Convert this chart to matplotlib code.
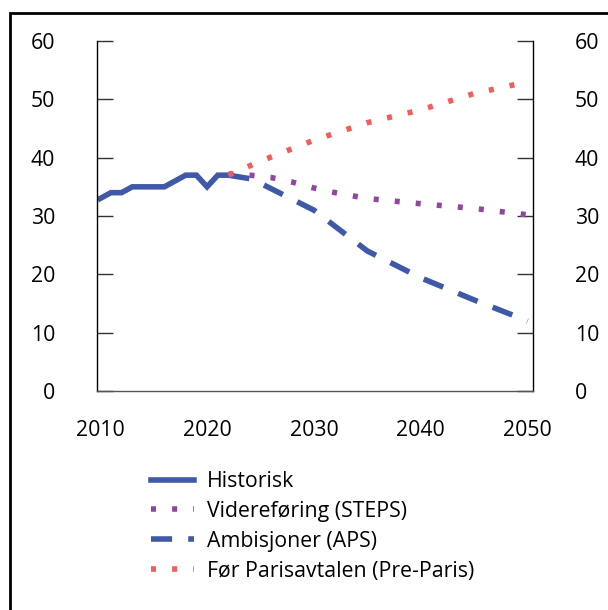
import matplotlib
matplotlib.use("Agg")
import matplotlib.pyplot as plt
from matplotlib.patches import Rectangle

plt.rcParams["font.family"] = ["Open Sans", "DejaVu Sans"]

# values (index units)
hist_years = [2010, 2011, 2012, 2013, 2014, 2015, 2016, 2017, 2018, 2019, 2020, 2021, 2022]
hist_vals = [33, 34, 34, 35, 35, 35, 35, 36, 37, 37, 35, 37, 37]

steps_years = [2022, 2024, 2026, 2028, 2030, 2032, 2035, 2040, 2045, 2050]
steps_vals = [37.2, 37.0, 36.6, 35.8, 34.8, 34.0, 33.0, 32.1, 31.3, 30.2]

aps_years = [2022, 2024, 2025, 2030, 2035, 2040, 2045, 2050]
aps_vals = [37.0, 36.4, 35.6, 31.0, 24.0, 19.4, 15.6, 12.0]

pre_years = [2022, 2025, 2030, 2035, 2040, 2045, 2050]
pre_vals = [37.0, 39.4, 43.0, 46.0, 48.2, 51.0, 53.0]

labels = ["Historisk", "Videreføring (STEPS)", "Ambisjoner (APS)",
          "Før Parisavtalen (Pre-Paris)"]
yticks = [0, 10, 20, 30, 40, 50, 60]
xticks = [2010, 2020, 2030, 2040, 2050]

BLUE = "#4058A8"
PURPLE = "#9146A0"
RED = "#F25C5C"
FS = 15.3
LW = 4.0

W, H = 608, 610
fig = plt.figure(figsize=(W / 100, H / 100), dpi=100)
ax = fig.add_axes([97 / W, 1 - 391 / H, (533 - 97) / W, (391 - 41) / H])

ax.plot(hist_years, hist_vals, color=BLUE, lw=LW, solid_joinstyle="miter",
        label=labels[0])
ax.plot(steps_years, steps_vals, color=PURPLE, lw=LW, dashes=(0.9, 2.9),
        dash_capstyle="butt", label=labels[1])
ax.plot(aps_years, aps_vals, color=BLUE, lw=LW, dashes=(3.8, 2.9),
        dash_capstyle="butt", label=labels[2])
ax.plot(pre_years, pre_vals, color=RED, lw=LW, dashes=(0.9, 2.9),
        dash_capstyle="butt", label=labels[3])

ax.set_xlim(2009.7, 2050.5)
ax.set_ylim(0, 60)
ax.set_xticks(xticks)
ax.set_yticks(yticks)
ax.tick_params(axis="x", length=0, pad=21, labelsize=FS)
ax.tick_params(axis="y", direction="in", length=11.5, width=1.0, color="#333333",
               pad=30, labelsize=FS, right=True, labelright=True)

ax.spines["top"].set_visible(False)
ax.spines["left"].set_color("black")
ax.spines["right"].set_color("black")
ax.spines["bottom"].set_color("#555555")
for s in ("left", "right", "bottom"):
    ax.spines[s].set_linewidth(1.0)

# outer frame (only left and top edges fall inside the image)
fig.patches.append(Rectangle((9.5 / W, -0.1), 1.2, 1 - 13 / H + 0.1,
                             transform=fig.transFigure, fill=False,
                             edgecolor="black", lw=2.0))

fig.legend(loc="upper left", bbox_to_anchor=(151 / W, 1 - 471 / H),
           frameon=False, fontsize=FS, handlelength=2.0, handletextpad=0.62,
           labelspacing=0.42, borderpad=0, borderaxespad=0)

fig.savefig("out.png", dpi=100)
